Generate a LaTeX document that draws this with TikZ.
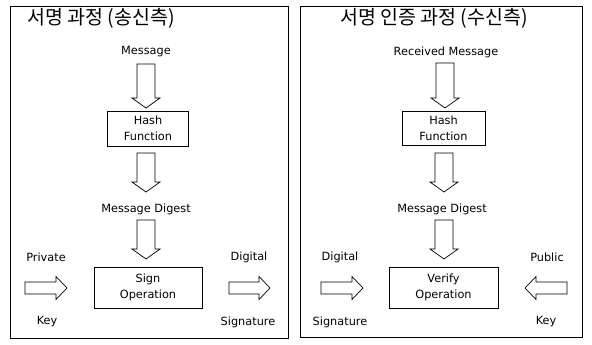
\documentclass[tikz,border=0pt]{standalone}
\usepackage{fontspec}
\setmainfont{DejaVu Sans}
\newfontfamily\kofont{Noto Sans CJK KR}
\usetikzlibrary{calc}
\tikzset{
  panel/.style={draw=black, line width=0.8pt},
  titletext/.style={font=\kofont\fontsize{19.5}{22}\selectfont, inner sep=0pt},
  lbl/.style={font=\fontsize{11.3}{13}\selectfont, inner sep=0pt},
  procbox/.style={draw=black, line width=0.8pt, align=center, font=\fontsize{11.3}{16}\selectfont, inner sep=0pt},
  blk/.style={draw=black, line width=0.7pt, fill=white, line join=miter}
}
\newcommand\blockdown[2]{%
  \draw[blk] let \p1=(#1), \p2=(#2) in
    (\x1-9pt,\y1) -- (\x1+9pt,\y1) -- (\x1+9pt,\y2+10pt) -- (\x1+14pt,\y2+10pt)
    -- (\x1,\y2) -- (\x1-14pt,\y2+10pt) -- (\x1-9pt,\y2+10pt) -- cycle;}
\newcommand\blockright[2]{%
  \draw[blk] let \p1=(#1), \p2=(#2) in
    (\x1,\y1+6pt) -- (\x2-11pt,\y1+6pt) -- (\x2-11pt,\y1+11.5pt) -- (\x2,\y1)
    -- (\x2-11pt,\y1-11.5pt) -- (\x2-11pt,\y1-6pt) -- (\x1,\y1-6pt) -- cycle;}
\newcommand\blockleft[2]{%
  \draw[blk] let \p1=(#1), \p2=(#2) in
    (\x1,\y1+6pt) -- (\x2+11pt,\y1+6pt) -- (\x2+11pt,\y1+11.5pt) -- (\x2,\y1)
    -- (\x2+11pt,\y1-11.5pt) -- (\x2+11pt,\y1-6pt) -- (\x1,\y1-6pt) -- cycle;}
\begin{document}
\begin{tikzpicture}[x=1pt,y=-1pt]
\useasboundingbox (0,0) rectangle (592,345);
% panels
\draw[panel] (10,6) rectangle (288,338);
\draw[panel] (300,6) rectangle (582,337);

% ---------- left panel ----------
\node[titletext] (t1) at (101,18) {서명 과정 (송신측)};
\node[lbl] (m1) at (146,52) {Message};
\node[procbox, minimum width=81pt, minimum height=35pt] (h1) at (148,128.5) {Hash\\Function};
\node[lbl] (d1) at (146,209) {Message Digest};
\node[procbox, minimum width=108pt, minimum height=41pt] (s1) at (148,287.5) {Sign\\Operation};
\node[lbl] (pk1) at (46,257) {Private};
\node[lbl] (pk2) at (47,322) {Key};
\node[lbl] (ds1) at (249,257) {Digital};
\node[lbl] (ds2) at (248,322) {Signature};

\coordinate (a1s) at (146,64);  \coordinate (a1e) at (146,108);
\coordinate (a2s) at (146,153); \coordinate (a2e) at (146,192);
\coordinate (a3s) at (146,220); \coordinate (a3e) at (146,259);
\coordinate (p1s) at (25,288);  \coordinate (p1e) at (67,288);
\coordinate (q1s) at (229,288); \coordinate (q1e) at (270,288);
\blockdown{a1s}{a1e}
\blockdown{a2s}{a2e}
\blockdown{a3s}{a3e}
\blockright{p1s}{p1e}
\blockright{q1s}{q1e}

% ---------- right panel ----------
\node[titletext] (t2) at (434,18) {서명 인증 과정 (수신측)};
\node[lbl] (m2) at (446,52) {Received Message};
\node[procbox, minimum width=83pt, minimum height=34pt] (h2) at (443.5,128) {Hash\\Function};
\node[lbl] (d2) at (442,209) {Message Digest};
\node[procbox, minimum width=109pt, minimum height=41pt] (v2) at (443.5,287.5) {Verify\\Operation};
\node[lbl] (ds3) at (340,257) {Digital};
\node[lbl] (ds4) at (340,322) {Signature};
\node[lbl] (pb1) at (547,257) {Public};
\node[lbl] (pb2) at (546,322) {Key};

\coordinate (b1s) at (445,63);  \coordinate (b1e) at (445,108);
\coordinate (b2s) at (444,153); \coordinate (b2e) at (444,192);
\coordinate (b3s) at (444,220); \coordinate (b3e) at (444,259);
\coordinate (r1s) at (321,288); \coordinate (r1e) at (363,288);
\coordinate (u1s) at (567,288); \coordinate (u1e) at (525,288);
\blockdown{b1s}{b1e}
\blockdown{b2s}{b2e}
\blockdown{b3s}{b3e}
\blockright{r1s}{r1e}
\blockleft{u1s}{u1e}
\end{tikzpicture}
\end{document}
